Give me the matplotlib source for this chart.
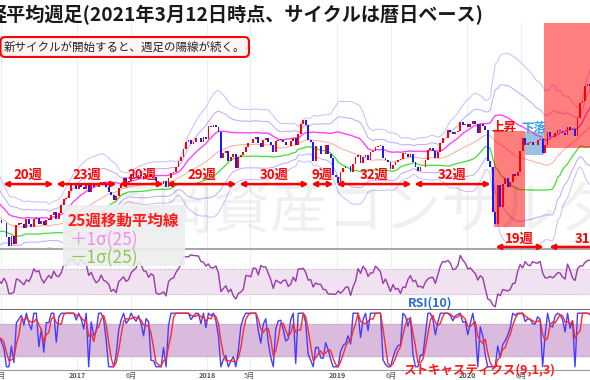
import numpy as np
import pandas as pd
import matplotlib
matplotlib.use("Agg")
import matplotlib.pyplot as plt
from matplotlib.patches import Rectangle
from matplotlib.transforms import blended_transform_factory

plt.rcParams['font.family'] = ['Noto Sans CJK JP', 'DejaVu Sans']

# 日経平均 週足終値 (2015-12-04 から毎週金曜)
start_week = '2015-12-04'
closes = [
    # 2015
    19504, 19230, 18986, 18769,
    # 2016
    19033, 17697, 17147, 16958, 17518,
    16819, 14952, 16074, 16188,
    17014, 16938, 16724, 17002,
    16164, 15821, 16848, 17572, 16666,
    16106, 16412, 16736, 16834,
    16642, 16601, 15599, 14952,
    15682, 15106, 16497, 16627, 16569,
    16254, 16919, 16545, 16360,
    16925, 16965, 16519, 16754, 16449,
    16860, 16856, 17184, 17446,
    16905, 17374, 17968, 18381,
    18426, 18996, 19401, 19428, 19114,
    # 2017
    19454, 19287, 19137, 19467,
    18918, 19378, 19234, 19283,
    19469, 19604, 19521, 19262, 18909,
    18664, 18335, 18620, 19196,
    19445, 19883, 19590, 19686,
    20177, 20013, 19943, 20132, 20033,
    19929, 20118, 20099, 19959,
    19952, 19729, 19470, 19452,
    19691, 19274, 19909, 20296, 20356,
    20690, 21155, 21457, 22008,
    22539, 22681, 22397, 22550,
    22819, 22811, 22553, 22902, 22765,
    # 2018
    23714, 23653, 23808, 23631,
    23274, 21382, 21720, 21892,
    21182, 21469, 21676, 20617, 21454,
    21567, 21778, 22162, 22467,
    22472, 22758, 22930, 22451,
    22171, 22694, 22851, 22516, 22305,
    21788, 22597, 22698, 22712,
    22525, 22298, 22270, 22601, 22865,
    22307, 23094, 23870, 24120,
    23784, 22694, 22532, 21184,
    22243, 22250, 21680, 21646, 22351,
    21679, 21374, 20166, 20015,
    # 2019
    19561, 20359, 20666, 20774,
    20788, 20333, 20900, 21425,
    21602, 21025, 21450, 21627, 21205,
    21807, 21870, 22200, 22258,
    22258, 21344, 21250, 21117, 20601,
    20884, 21116, 21258, 21275,
    21746, 21685, 21466, 21658,
    21087, 20684, 20418, 20710, 20704,
    21199, 21988, 22079, 21878,
    21410, 21798, 22492, 22799,
    22850, 23391, 23303, 23112, 23293,
    23354, 24023, 23816, 23837,
    # 2020
    23657, 23850, 24041, 23827, 23205,
    23828, 23688, 23387, 21143,
    20750, 17431, 16553, 19389,
    17820, 19499, 19897, 19262,
    19619, 20179, 20037, 20388, 21878,
    22863, 22305, 22479, 22512,
    22306, 22291, 22697, 22751, 21710,
    22329, 23289, 22920, 22883,
    23205, 23406, 23360, 23205,
    23030, 23620, 23411, 23517, 22977,
    24325, 25385, 25527, 26644,
    26751, 26652, 26763,
]

# サイクルの区切り (日付) とラベル
cycle_edges = ['2016-06-04', '2016-10-31', '2017-04-26', '2017-09-05', '2018-03-29',
               '2018-10-17', '2018-12-26', '2019-08-02', '2020-03-11']
cycle_labels = ['20週', '23週', '20週', '29週', '30週', '9週', '32週', '32週']
new_cycles = [('2020-03-17', '2020-08-07'), ('2020-08-15', '2021-04-02')]
new_labels = ['19週', '31週']

tick_dates = ['2016-06-01', '2017-01-01', '2017-06-01', '2018-01-01', '2018-05-01',
              '2019-01-01', '2019-06-01', '2020-01-01', '2020-06-01']
tick_labels = ['6月', '2017', '6月', '2018', '5月', '2019', '6月', '2020', '6月']

origin = pd.Timestamp('2017-01-01')
def dd(s):
    return (pd.Timestamp(s) - origin).days

dates = pd.date_range(start_week, periods=len(closes), freq='W-FRI')
x = np.array((dates - origin).days, dtype=float)
c = pd.Series(closes, dtype=float)
o = c.shift(1).fillna(c.iloc[0])

ma = c.rolling(25).mean()
sd = c.rolling(25).std(ddof=0)

diff = c.diff()
up = diff.clip(lower=0).rolling(10).sum()
dn = (-diff.clip(upper=0)).rolling(10).sum()
rsi = 100 * up / (up + dn)

ll = c.rolling(9).min()
hh = c.rolling(9).max()
k = 100 * (c - ll) / (hh - ll)
d = k.rolling(3).mean()

W, H = 590, 380
fig = plt.figure(figsize=(5.9, 3.8), dpi=100)
def fx(px): return px / W
def fy(py): return 1 - py / H

ax = fig.add_axes([0, fy(249), 1, (249 - 23) / H])
ax_r = fig.add_axes([0, fy(310), 1, 60 / H], sharex=ax)
ax_s = fig.add_axes([0, fy(370), 1, 60 / H], sharex=ax)

xmin, xmax = dd('2016-05-30'), dd('2020-12-11')
for a in (ax, ax_r, ax_s):
    a.set_xlim(xmin, xmax)
    for t in tick_dates:
        a.axvline(dd(t), color='#e6edf4', lw=0.6, zorder=0)
    for s in a.spines.values():
        s.set_visible(False)
    a.tick_params(left=False, labelleft=False, bottom=False, labelbottom=False)

# price panel
ax.set_ylim(14730, 31230)
ax.spines['bottom'].set_visible(True)
ax.spines['bottom'].set_color('#a8a8a8')
ax.spines['bottom'].set_linewidth(1.5)

ax.plot(x, ma + 3 * sd, color='#cbbcff', lw=0.7, zorder=1)
ax.plot(x, ma + 2 * sd, color='#bfa6ff', lw=0.7, zorder=1)
ax.plot(x, ma - 2 * sd, color='#bfa6ff', lw=0.7, zorder=1)
ax.plot(x, ma - 3 * sd, color='#cbbcff', lw=0.7, zorder=1)
ax.plot(x, ma, color='#ffaa9c', lw=0.7, zorder=1)
ax.plot(x, ma + sd, color='#ff44ff', lw=1.0, zorder=1)
ax.plot(x, ma - sd, color='#44dd33', lw=0.9, zorder=1)

# 上昇 / 下落 / 新サイクル の枠
ax.add_patch(Rectangle((dd('2020-03-16'), 16340), dd('2020-06-12') - dd('2020-03-16'), 23340 - 16340,
                       color='#ff0000', alpha=0.5, lw=0, zorder=2))
ax.add_patch(Rectangle((dd('2020-06-12'), 21600), dd('2020-08-04') - dd('2020-06-12'), 23270 - 21600,
                       color='#3d85c6', alpha=0.5, lw=0, zorder=2))
ax.add_patch(Rectangle((dd('2020-08-04'), 22100), dd('2021-03-12') - dd('2020-08-04'), 31300 - 22100,
                       color='#ff0000', alpha=0.5, lw=0, zorder=2))

body = (c - o).values
body = np.where(np.abs(body) < 30, 30, body)
cols = np.where(c.values >= o.values, '#ff0000', '#1a1aff')
ax.bar(x, body, bottom=o.values, width=5, color=cols, lw=0, zorder=3)

# サイクルの矢印
for i, lab in enumerate(cycle_labels):
    x0, x1 = dd(cycle_edges[i]), dd(cycle_edges[i + 1])
    ax.annotate('', xy=(x1, 19470), xytext=(x0, 19470),
                arrowprops=dict(arrowstyle='<|-|>', color='#ff0000', lw=1.8,
                                mutation_scale=7, shrinkA=1, shrinkB=1),
                annotation_clip=False, zorder=5)
    ax.text((x0 + x1) / 2, 20150, lab, color='#ff0000', fontsize=9.5, fontweight='bold',
            ha='center', va='center', zorder=6)
for (a0, a1), lab in zip(new_cycles, new_labels):
    x0, x1 = dd(a0), dd(a1)
    ax.annotate('', xy=(x1, 14880), xytext=(x0, 14880),
                arrowprops=dict(arrowstyle='<|-|>', color='#ff0000', lw=1.8,
                                mutation_scale=7, shrinkA=1, shrinkB=1),
                annotation_clip=False, zorder=5)
    ax.text((x0 + x1) / 2, 15450, lab, color='#ff0000', fontsize=9.5, fontweight='bold',
            ha='center', va='center', zorder=6)

ax.text(dd('2020-04-14'), 23600, '上昇', color='#ff0000', fontsize=9, fontweight='bold',
        ha='center', va='center', zorder=6)
ax.text(dd('2020-07-06'), 23550, '下落', color='#3aa0e6', fontsize=9, fontweight='bold',
        ha='center', va='center', zorder=6)

# RSI panel
ax_r.set_ylim(4, 100)
ax_r.spines['bottom'].set_visible(True)
ax_r.spines['bottom'].set_color('#707070')
ax_r.spines['bottom'].set_linewidth(1.5)
ax_r.axhspan(30, 70, color='#f1e2f1', zorder=0.5)
for lv in (30, 70):
    ax_r.axhline(lv, color='#b8b8b8', lw=0.7, ls=':', zorder=0.6)
ax_r.plot(x, rsi, color='#9a3aaa', lw=1.0, zorder=2)

# Stochastics panel
ax_s.set_ylim(-6, 106)
ax_s.spines['bottom'].set_visible(True)
ax_s.spines['bottom'].set_color('#9a9a9a')
ax_s.axhspan(20, 80, color='#dbbbdd', zorder=0.5)
for lv in (20, 80):
    ax_s.axhline(lv, color='#b0a0b0', lw=0.7, ls=':', zorder=0.6)
ax_s.plot(x, k, color='#4a3cff', lw=1.0, zorder=2)
ax_s.plot(x, d, color='#ff2a2a', lw=1.0, zorder=3)

# x軸ラベル (軸の下に直接配置)
tr = blended_transform_factory(ax_s.transData, fig.transFigure)
for t, lab in zip(tick_dates, tick_labels):
    ax_s.text(dd(t), fy(375.5), lab, transform=tr, fontsize=5.2, color='#555555',
              fontweight='bold' if lab.isdigit() else 'normal',
              ha='center', va='center', clip_on=False)

# watermark
fig.text(fx(99), fy(212), '高岡資産コンサルタント', fontsize=41, color='#000000', alpha=0.06,
         ha='left', va='center', zorder=4)

# title
fig.text(fx(-12), fy(15), '経平均週足(2021年3月12日時点、サイクルは暦日ベース)', fontsize=13.8,
         fontweight='bold', color='#1a1a1a', ha='left', va='center')
fig.text(fx(4), fy(47), '新サイクルが開始すると、週足の陽線が続く。', fontsize=8.3, color='#222222',
         ha='left', va='center',
         bbox=dict(boxstyle='round,pad=0.3,rounding_size=0.4', fc='#fff4f4', ec='#ff0000', lw=1.5))

# legend box
fig.patches.append(Rectangle((fx(63), fy(266)), fx(185) - fx(63), fy(205) - fy(266),
                             transform=fig.transFigure, fc='#eeeeee', ec='none', alpha=0.9, zorder=5))
fig.text(fx(68), fy(221), '25週移動平均線', fontsize=11.2, fontweight='bold', color='#ff1a1a',
         ha='left', va='center', zorder=6)
fig.text(fx(70), fy(240), '＋1σ(25)', fontsize=12.5, color='#f48cf0', ha='left', va='center', zorder=6)
fig.text(fx(70), fy(258), '－1σ(25)', fontsize=12.5, color='#8cc850', ha='left', va='center', zorder=6)

fig.text(fx(430), fy(303), 'RSI(10)', fontsize=9, fontweight='bold', color='#2b6cc4',
         ha='center', va='center', zorder=6)
fig.text(fx(403), fy(371), 'ストキャスティクス(9,1,3)', fontsize=9, fontweight='bold', color='#ff1a1a',
         ha='left', va='center', zorder=6)

fig.savefig('out.png', dpi=100)
